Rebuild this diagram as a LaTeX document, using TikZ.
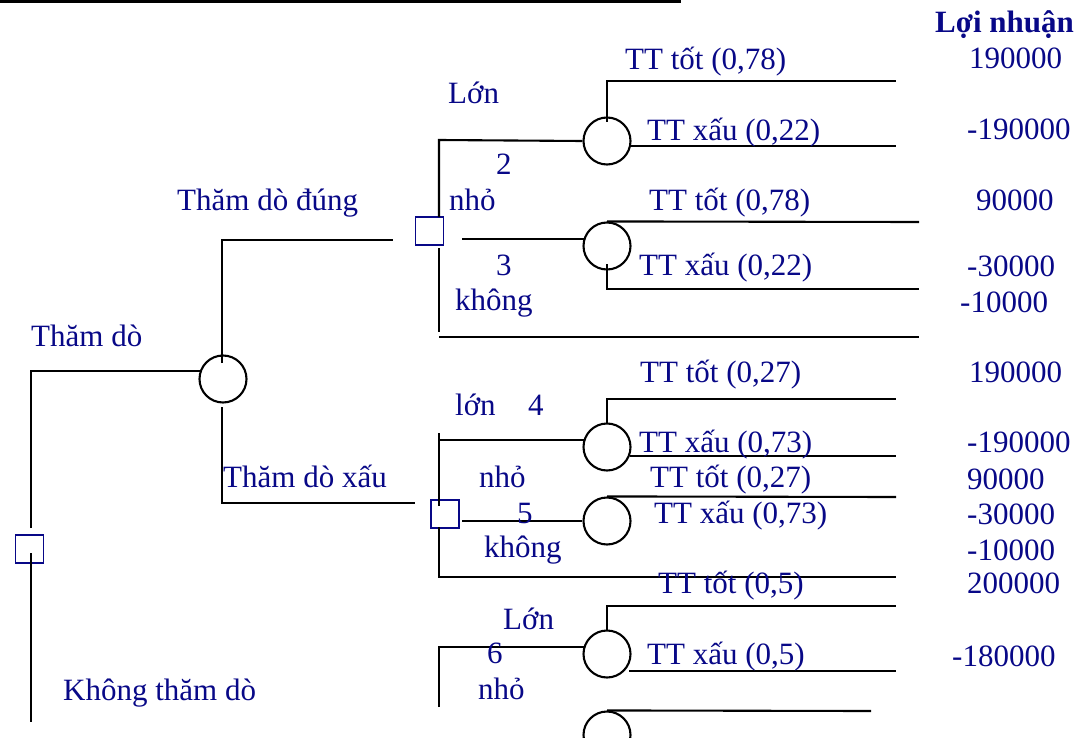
\documentclass[tikz,border=0pt]{standalone}
\usepackage{fontspec}
\setmainfont{Liberation Serif}
\definecolor{navy}{RGB}{8,8,135}
\begin{document}
\begin{tikzpicture}[x=1pt,y=-1pt,
  ln/.style={line width=2.1pt, draw=black},
  dec/.style={draw=navy, line width=1.7pt, minimum size=28pt, inner sep=0pt},
  chance/.style={draw=black, circle, line width=2.1pt, minimum size=47pt, inner sep=0pt},
  lab/.style={anchor=base west, inner sep=0pt, text=navy, font=\fontsize{31}{36}\selectfont},
  val/.style={lab}]
\useasboundingbox (0,0) rectangle (1086,738);
% top bar
\draw[line width=3pt] (0,2) -- (679,2) -- (679,0);

% decision and chance nodes
\node[dec] (d1) at (29.5,549) {};
\node[dec] (d2) at (429.5,231) {};
\node[dec] (d5) at (445,514) {};
\node[chance] (c1) at (223,379) {};
\node[chance] (cA) at (607,141) {};
\node[chance] (cB) at (607,246) {};
\node[chance] (cC) at (607,447) {};
\node[chance] (cD) at (607,521) {};
\node[chance] (cE) at (607,654) {};
\node[chance] (cF) at (607,735) {};

% coordinates
\coordinate (r1) at (31,528);
\coordinate (r2) at (31,371);
\coordinate (r3) at (200,371);
\coordinate (r4) at (31,553);
\coordinate (r5) at (31,722);

\coordinate (u1) at (222,363);
\coordinate (u2) at (222,240);
\coordinate (u3) at (393,240);
\coordinate (l1) at (222,407);
\coordinate (l2) at (222,503);
\coordinate (l3) at (415,503);

% upper decision (2,3)
\coordinate (v1) at (439,217);
\coordinate (v2) at (439,140);
\coordinate (v3) at (439,248);
\coordinate (v4) at (439,332);
\coordinate (v5) at (439,337);
\coordinate (v6) at (919,337);
\coordinate (m1) at (462,239);
\coordinate (m2) at (584,239);

\coordinate (a1) at (607,122);
\coordinate (a2) at (607,81);
\coordinate (a3) at (896,81);
\coordinate (a4) at (631,146);
\coordinate (a5) at (896,146);
\coordinate (b1) at (919,222);
\coordinate (b2) at (607,264);
\coordinate (b3) at (607,289);
\coordinate (b4) at (919,289);

% lower decision (4,5)
\coordinate (w1) at (439,433);
\coordinate (w2) at (439,440);
\coordinate (w3) at (584,440);
\coordinate (w4) at (439,506);
\coordinate (w5) at (439,527);
\coordinate (w6) at (439,577);
\coordinate (w7) at (896,577);
\coordinate (n1) at (462,521);

\coordinate (cc1) at (607,423);
\coordinate (cc2) at (607,399);
\coordinate (cc3) at (896,399);
\coordinate (cc4) at (630,456);
\coordinate (cc5) at (896,456);
\coordinate (dd1) at (896,497);

% branch 6
\coordinate (e0) at (439,707);
\coordinate (e1) at (439,647);
\coordinate (e2) at (584,647);
\coordinate (e3) at (607,630);
\coordinate (e4) at (607,606);
\coordinate (e5) at (896,606);
\coordinate (e6) at (629,671);
\coordinate (e7) at (896,671);
\coordinate (f1) at (871,711);

% connectors
\draw[ln] (r1) -- (r2) -- (r3);
\draw[ln] (r4) -- (r5);
\draw[ln] (u1) -- (u2) -- (u3);
\draw[ln] (l1) -- (l2) -- (l3);

\draw[ln] (v1) -- (v2) -- (cA.west);
\draw[ln] (v3) -- (v4);
\draw[ln] (v5) -- (v6);
\draw[ln] (m1) -- (m2);
\draw[ln] (a1) -- (a2) -- (a3);
\draw[ln] (a4) -- (a5);
\draw[ln] (cB.north) -- (b1);
\draw[ln] (b2) -- (b3) -- (b4);

\draw[ln] (w1) -- (w4);
\draw[ln] (w5) -- (w6) -- (w7);
\draw[ln] (w2) -- (w3);
\draw[ln] (n1) -- (cD.west);
\draw[ln] (cc1) -- (cc2) -- (cc3);
\draw[ln] (cc4) -- (cc5);
\draw[ln] (cD.north) -- (dd1);

\draw[ln] (e0) -- (e1) -- (e2);
\draw[ln] (e3) -- (e4) -- (e5);
\draw[ln] (e6) -- (e7);
\draw[ln] (cF.north) -- (f1);

% labels
\node[lab, font=\fontsize{31}{36}\selectfont\bfseries] (h) at (935,33) {Lợi nhuận};
\node[lab] (t1) at (625,70) {TT tốt (0,78)};
\node[val] (p1) at (969,69) {190000};
\node[lab] (k1) at (448,104) {Lớn};
\node[lab] (t2) at (647,141) {TT xấu (0,22)};
\node[val] (p2) at (967,140) {-190000};
\node[lab] (n2) at (496,175) {2};
\node[lab] (k2) at (177,210) {Thăm dò đúng};
\node[lab] (k3) at (449,210) {nhỏ};
\node[lab] (t3) at (649,211) {TT tốt (0,78)};
\node[val] (p3) at (976,210) {90000};
\node[lab] (n3) at (496,275) {3};
\node[lab] (t4) at (639,275) {TT xấu (0,22)};
\node[val] (p4) at (967,276) {-30000};
\node[lab] (k4) at (455,310) {không};
\node[val] (p5) at (960,312) {-10000};
\node[lab] (k5) at (31,346) {Thăm dò};
\node[lab] (t5) at (640,382) {TT tốt (0,27)};
\node[val] (p6) at (969,382) {190000};
\node[lab] (k6) at (455,415) {lớn};
\node[lab] (n4) at (528,415) {4};
\node[lab] (t6) at (639,452) {TT xấu (0,73)};
\node[val] (p7) at (967,452) {-190000};
\node[lab] (k7) at (223,487) {Thăm dò xấu};
\node[lab] (k8) at (479,487) {nhỏ};
\node[lab] (t7) at (650,487) {TT tốt (0,27)};
\node[val] (p8) at (967,489) {90000};
\node[lab] (n5) at (517,523) {5};
\node[lab] (t8) at (654,523) {TT xấu (0,73)};
\node[val] (p9) at (967,524) {-30000};
\node[lab] (k9) at (484,557) {không};
\node[val] (p10) at (967,560) {-10000};
\node[lab] (t9) at (658,593) {TT tốt (0,5)};
\node[val] (p11) at (967,593) {200000};
\node[lab] (k10) at (503,629) {Lớn};
\node[lab] (n6) at (487,663) {6};
\node[lab] (t10) at (647,664) {TT xấu (0,5)};
\node[val] (p12) at (952,666) {-180000};
\node[lab] (k11) at (478,699) {nhỏ};
\node[lab] (k12) at (63,700) {Không thăm dò};
\end{tikzpicture}
\end{document}
